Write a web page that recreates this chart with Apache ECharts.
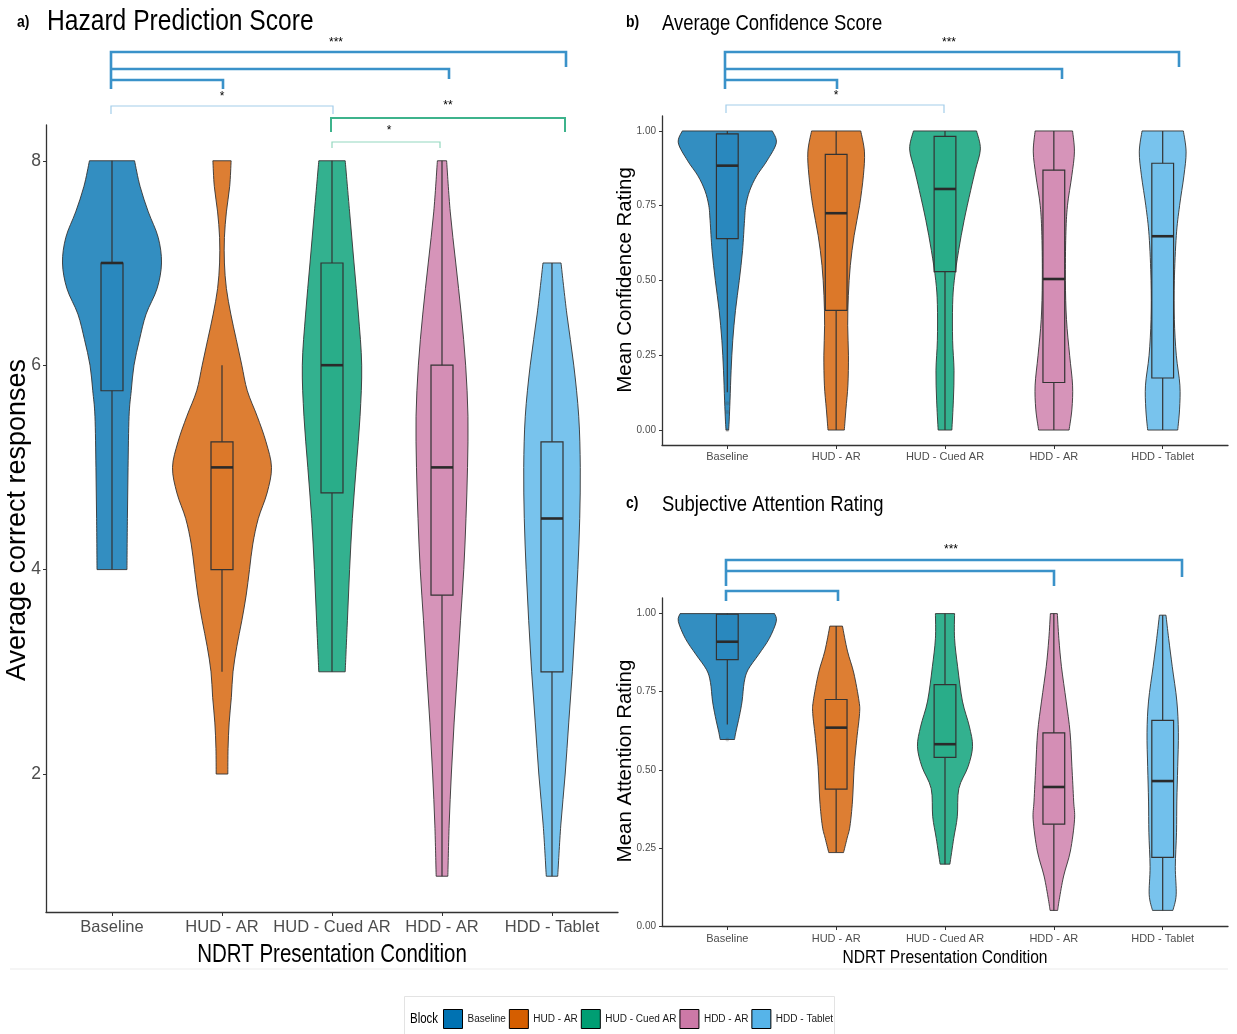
<!DOCTYPE html>
<html><head><meta charset="utf-8">
<script src="https://cdn.jsdelivr.net/npm/echarts@6/dist/echarts.min.js"></script>
<style>html,body{margin:0;padding:0;background:#fff}#c{width:1237px;height:1034px}</style>
</head><body><div id="c"></div>
<script>
// ---------------- DATA ----------------
const categories = ['Baseline', 'HUD - AR', 'HUD - Cued AR', 'HDD - AR', 'HDD - Tablet'];
const colors = ['#0072B2', '#D55E00', '#009E73', '#CC79A7', '#56B4E9'];

// box stats: [lower whisker, Q1, median, Q3, upper whisker]
const hazardBox = [[4, 5.75, 7, 7, 8], [3, 4, 5, 5.25, 6], [3, 4.75, 6, 7, 8], [1, 3.75, 5, 6, 8], [1, 3, 4.5, 5.25, 7]];
const confBox = [[0.126, 0.64, 0.884, 0.99, 1], [0, 0.40, 0.725, 0.922, 1], [0, 0.53, 0.806, 0.982, 1], [0, 0.159, 0.505, 0.869, 1], [0, 0.174, 0.648, 0.892, 1]];
const attnBox = [[0.645, 0.853, 0.91, 0.998, 1], [0.236, 0.438, 0.635, 0.725, 0.96], [0.198, 0.54, 0.582, 0.773, 1], [0.05, 0.326, 0.445, 0.618, 1], [0.05, 0.22, 0.464, 0.658, 0.995]];
const confOutliers = [0.09, 0.06, 0.0];
const attnOutliers = [0.597];

// violin density profiles: [value, relative half-width]
const hazardViolin = [
  [[8,0.205],[7.75,0.255],[7.5,0.33],[7.25,0.42],[7.0,0.45],[6.75,0.41],[6.5,0.31],[6.25,0.25],[6.0,0.2],[5.75,0.175],[5.5,0.155],[5.0,0.146],[4.5,0.14],[4.0,0.136]],
  [[8,0.083],[7.75,0.07],[7.5,0.04],[7.25,0.022],[7.0,0.022],[6.75,0.04],[6.5,0.08],[6.25,0.13],[6.0,0.18],[5.75,0.23],[5.5,0.32],[5.25,0.4],[5.0,0.45],[4.75,0.41],[4.5,0.33],[4.25,0.28],[4.0,0.25],[3.75,0.22],[3.5,0.18],[3.25,0.135],[3.0,0.1],[2.75,0.085],[2.5,0.065],[2.25,0.055],[2.0,0.053]],
  [[8,0.12],[7.5,0.16],[7.0,0.2],[6.5,0.24],[6.0,0.27],[5.5,0.255],[5.0,0.22],[4.5,0.185],[4.0,0.16],[3.5,0.14],[3.0,0.12]],
  [[8,0.042],[7.5,0.075],[7.0,0.125],[6.5,0.175],[6.0,0.215],[5.5,0.236],[5.0,0.232],[4.5,0.218],[4.0,0.198],[3.5,0.168],[3.0,0.14],[2.5,0.11],[2.0,0.085],[1.5,0.065],[1.0,0.053]],
  [[7,0.082],[6.5,0.135],[6.0,0.198],[5.5,0.243],[5.0,0.257],[4.5,0.252],[4.0,0.235],[3.5,0.212],[3.0,0.185],[2.5,0.152],[2.0,0.12],[1.5,0.08],[1.0,0.052]]
];
const confViolin = [
  [[1,0.414],[0.96,0.45],[0.9,0.364],[0.85,0.27],[0.8,0.205],[0.75,0.17],[0.7,0.158],[0.6,0.14],[0.5,0.11],[0.4,0.075],[0.3,0.05],[0.2,0.035],[0.1,0.025],[0.03,0.017],[0,0.012]],
  [[1,0.226],[0.93,0.26],[0.85,0.25],[0.75,0.215],[0.65,0.165],[0.55,0.13],[0.45,0.112],[0.35,0.106],[0.25,0.113],[0.15,0.108],[0.07,0.09],[0,0.075]],
  [[1,0.29],[0.94,0.325],[0.87,0.28],[0.8,0.235],[0.7,0.175],[0.6,0.125],[0.5,0.085],[0.42,0.07],[0.3,0.07],[0.2,0.083],[0.1,0.077],[0,0.063]],
  [[1,0.172],[0.93,0.189],[0.85,0.165],[0.75,0.125],[0.65,0.11],[0.5,0.106],[0.37,0.116],[0.25,0.145],[0.15,0.172],[0.07,0.166],[0,0.14]],
  [[1,0.19],[0.93,0.215],[0.85,0.195],[0.75,0.155],[0.65,0.125],[0.5,0.107],[0.37,0.107],[0.25,0.125],[0.15,0.158],[0.07,0.155],[0,0.138]]
];
const attnViolin = [
  [[1,0.434],[0.975,0.45],[0.92,0.385],[0.87,0.29],[0.82,0.19],[0.78,0.155],[0.72,0.136],[0.67,0.11],[0.62,0.078],[0.597,0.066]],
  [[0.96,0.058],[0.88,0.104],[0.81,0.162],[0.72,0.21],[0.68,0.215],[0.6,0.19],[0.51,0.166],[0.4,0.15],[0.32,0.127],[0.28,0.1],[0.235,0.068]],
  [[1,0.088],[0.92,0.088],[0.83,0.116],[0.72,0.16],[0.64,0.223],[0.575,0.253],[0.51,0.212],[0.44,0.127],[0.35,0.113],[0.28,0.08],[0.198,0.045]],
  [[1,0.032],[0.92,0.046],[0.83,0.07],[0.72,0.113],[0.62,0.149],[0.51,0.166],[0.4,0.182],[0.34,0.19],[0.24,0.152],[0.16,0.09],[0.085,0.05],[0.05,0.035]],
  [[0.995,0.03],[0.92,0.055],[0.83,0.088],[0.72,0.13],[0.62,0.144],[0.51,0.138],[0.4,0.13],[0.3,0.127],[0.19,0.116],[0.1,0.124],[0.05,0.094]]
];
const hazardTicks = [2, 4, 6, 8];
const rateTicks = [0, 0.25, 0.5, 0.75, 1];

// ---------------- RENDER ----------------
const REG = "'Liberation Sans',Arial,sans-serif";
const NARROW_SCALE = 0.82;
const AXIS = '#333333';
const catIdx = categories.map((c, i) => i);

function rgba(hex, a) {
  const n = parseInt(hex.slice(1), 16);
  return `rgba(${(n >> 16) & 255},${(n >> 8) & 255},${n & 255},${a})`;
}
function spline(pts) {
  let s = '';
  for (let i = 0; i < pts.length - 1; i++) {
    const p0 = pts[Math.max(i - 1, 0)], p1 = pts[i], p2 = pts[i + 1], p3 = pts[Math.min(i + 2, pts.length - 1)];
    const c1 = [p1[0] + (p2[0] - p0[0]) / 6, p1[1] + (p2[1] - p0[1]) / 6];
    const c2 = [p2[0] - (p3[0] - p1[0]) / 6, p2[1] - (p3[1] - p1[1]) / 6];
    s += ` C${c1[0]},${c1[1]} ${c2[0]},${c2[1]} ${p2[0]},${p2[1]}`;
  }
  return s;
}
function makeSeries(gi, profiles, boxes) {
  return categories.map((name, i) => ({
    type: 'custom', name, xAxisIndex: gi, yAxisIndex: gi,
    itemStyle: { color: colors[i] },
    data: [[i, boxes[i][2]]],
    encode: { x: 0, y: 1 },
    renderItem: (params, api) => {
      const ci = api.value(0);
      const band = api.size([1, 0])[0];
      const prof = profiles[ci];
      const right = prof.map(([v, w]) => { const p = api.coord([ci, v]); return [p[0] + w * band, p[1]]; });
      const left = prof.map(([v, w]) => { const p = api.coord([ci, v]); return [p[0] - w * band, p[1]]; }).reverse();
      const d = `M${right[0][0]},${right[0][1]}` + spline(right) + ` L${left[0][0]},${left[0][1]}` + spline(left) + ' Z';
      const b = boxes[ci];
      const cx = api.coord([ci, b[2]])[0];
      const yv = v => api.coord([ci, v])[1];
      const hw = 0.1 * band;
      const stroke = '#333333';
      return {
        type: 'group',
        children: [
          { type: 'path', shape: { pathData: d }, style: { fill: rgba(colors[ci], 0.8), stroke, lineWidth: 0.9 } },
          { type: 'line', shape: { x1: cx, y1: yv(b[1]), x2: cx, y2: yv(b[0]) }, style: { stroke, lineWidth: 1.2 } },
          { type: 'line', shape: { x1: cx, y1: yv(b[3]), x2: cx, y2: yv(b[4]) }, style: { stroke, lineWidth: 1.2 } },
          { type: 'rect', shape: { x: cx - hw, y: yv(b[3]), width: 2 * hw, height: yv(b[1]) - yv(b[3]) }, style: { fill: rgba(colors[ci], 0.2), stroke, lineWidth: 1.2 } },
          { type: 'line', shape: { x1: cx - hw, y1: yv(b[2]), x2: cx + hw, y2: yv(b[2]) }, style: { stroke: '#2a2a2a', lineWidth: 2.6 } }
        ]
      };
    }
  }));
}
function xAxis(gi, fs, margin) {
  return {
    type: 'value', gridIndex: gi, min: -0.6, max: 4.6, splitLine: { show: false },
    axisLine: { show: true, onZero: false, lineStyle: { color: AXIS, width: 1.3 } },
    axisTick: { show: true, customValues: catIdx, length: 4, lineStyle: { color: AXIS } },
    axisLabel: { customValues: catIdx, formatter: v => categories[Math.round(v)], color: '#4D4D4D', fontSize: fs, fontFamily: REG, margin }
  };
}
function yAxis(gi, min, max, ticks, fs, fmt, margin) {
  return {
    type: 'value', gridIndex: gi, min, max, splitLine: { show: false },
    axisLine: { show: true, onZero: false, lineStyle: { color: AXIS, width: 1.3 } },
    axisTick: { show: true, customValues: ticks, length: 3, lineStyle: { color: AXIS } },
    axisLabel: { customValues: ticks, formatter: fmt, color: '#4D4D4D', fontSize: fs, fontFamily: REG, margin }
  };
}

const chart = echarts.init(document.getElementById('c'));
const option = {
  animation: false,
  grid: [
    { left: 46, top: 125, width: 572, height: 787 },
    { left: 662, top: 116, width: 566, height: 329 },
    { left: 662, top: 598, width: 566, height: 328 }
  ],
  xAxis: [xAxis(0, 16.5, 7), xAxis(1, 11, 6), xAxis(2, 11, 7)],
  yAxis: [
    yAxis(0, 0.65, 8.35, hazardTicks, 17.5, v => String(v), 5),
    yAxis(1, -0.05, 1.05, rateTicks, 10, v => v.toFixed(2), 6),
    yAxis(2, 0, 1.05, rateTicks, 10, v => v.toFixed(2), 6)
  ],
  legend: {
    data: categories.map(name => ({ name, icon: 'rect' })),
    left: 443, top: 1009, itemWidth: 19, itemHeight: 19, itemGap: 3, padding: 0,
    itemStyle: { borderColor: '#000', borderWidth: 1 },
    textStyle: { fontSize: 10, fontFamily: REG, color: '#1a1a1a' },
    selectedMode: false
  },
  series: [
    ...makeSeries(0, hazardViolin, hazardBox),
    ...makeSeries(1, confViolin, confBox),
    ...makeSeries(2, attnViolin, attnBox),
    { type: 'scatter', xAxisIndex: 1, yAxisIndex: 1, data: confOutliers.map(v => [0, v]), symbolSize: 4, itemStyle: { color: 'rgba(70,70,70,0.3)' }, silent: true, z: 5 },
    { type: 'scatter', xAxisIndex: 2, yAxisIndex: 2, data: attnOutliers.map(v => [0, v]), symbolSize: 4, itemStyle: { color: 'rgba(70,70,70,0.3)' }, silent: true, z: 5 }
  ]
};
chart.setOption(option);

// ---------------- ANNOTATIONS ----------------
const BLUE = '#3A92C9', BLUE_L = '#A3CDEA', GREEN = '#3DB38C', GREEN_L = '#93D8BF';
function poly(points, color, w) {
  return { type: 'polyline', shape: { points }, style: { stroke: color, lineWidth: w, fill: null }, z: 10 };
}
function txt(text, x, y, opts) {
  return { type: 'text', x, y, rotation: opts.rotation || 0, scaleX: opts.narrow === false ? 1 : NARROW_SCALE, z: 10,
    style: { text, fontSize: opts.fs, fontFamily: REG, fontWeight: opts.fw || 'normal', fill: opts.color || '#000', align: opts.align || 'center', verticalAlign: 'middle' } };
}
const g = [];
// panel a brackets
g.push(poly([[111, 89], [111, 52], [566, 52], [566, 67]], BLUE, 2.6));
g.push(poly([[111, 69], [449, 69], [449, 79]], BLUE, 2.6));
g.push(poly([[111, 80], [223, 80], [223, 89]], BLUE, 2.6));
g.push(poly([[111, 114], [111, 106], [333, 106], [333, 114]], BLUE_L, 1.2));
g.push(poly([[331, 132], [331, 118], [565, 118], [565, 132]], GREEN, 2));
g.push(poly([[332, 148], [332, 142], [440, 142], [440, 148]], GREEN_L, 1.2));
g.push(txt('***', 336, 43, { fs: 12, narrow: false }));
g.push(txt('*', 222, 97, { fs: 12, narrow: false }));
g.push(txt('**', 448, 106, { fs: 12, narrow: false }));
g.push(txt('*', 389, 131, { fs: 12, narrow: false }));
// panel b brackets
g.push(poly([[725, 89], [725, 52], [1179, 52], [1179, 67]], BLUE, 2.6));
g.push(poly([[725, 69], [1062, 69], [1062, 79]], BLUE, 2.6));
g.push(poly([[725, 80], [837, 80], [837, 89]], BLUE, 2.6));
g.push(poly([[726, 113], [726, 105], [944, 105], [944, 113]], BLUE_L, 1.2));
g.push(txt('***', 949, 43, { fs: 12, narrow: false }));
g.push(txt('*', 836, 96, { fs: 12, narrow: false }));
// panel c brackets
g.push(poly([[726, 586], [726, 560], [1182, 560], [1182, 577]], BLUE, 2.6));
g.push(poly([[726, 571], [1054, 571], [1054, 586]], BLUE, 2.6));
g.push(poly([[726, 601], [726, 591], [838, 591], [838, 601]], BLUE, 2.6));
g.push(txt('***', 951, 550, { fs: 12, narrow: false }));
// titles
g.push(txt('a)', 17, 22, { fs: 17, fw: 'bold', align: 'left' }));
g.push(txt('Hazard Prediction Score', 47, 22, { fs: 30, align: 'left' }));
g.push(txt('b)', 626, 22, { fs: 17, fw: 'bold', align: 'left' }));
g.push(txt('Average Confidence Score', 662, 24, { fs: 22.5, align: 'left' }));
g.push(txt('c)', 626, 503, { fs: 17, fw: 'bold', align: 'left' }));
g.push(txt('Subjective Attention Rating', 662, 505, { fs: 22.5, align: 'left' }));
// axis titles
g.push(txt('NDRT Presentation Condition', 332, 955, { fs: 25 }));
g.push(txt('NDRT Presentation Condition', 945, 958, { fs: 19 }));
g.push(txt('Average correct responses', 18, 520, { fs: 27, rotation: Math.PI / 2, narrow: false }));
g.push(txt('Mean Confidence Rating', 625, 280, { fs: 20.5, rotation: Math.PI / 2, narrow: false }));
g.push(txt('Mean Attention Rating', 625, 761, { fs: 20.5, rotation: Math.PI / 2, narrow: false }));
// separator and legend frame
g.push({ type: 'line', shape: { x1: 10, y1: 969, x2: 1228, y2: 969 }, style: { stroke: '#EBEBEB', lineWidth: 1 } });
g.push({ type: 'rect', shape: { x: 404.5, y: 996.5, width: 430, height: 50 }, style: { fill: null, stroke: '#E3E3E3', lineWidth: 1 } });
g.push(txt('Block', 410, 1019, { fs: 14, align: 'left' }));
chart.setOption({ graphic: g });
</script></body></html>
